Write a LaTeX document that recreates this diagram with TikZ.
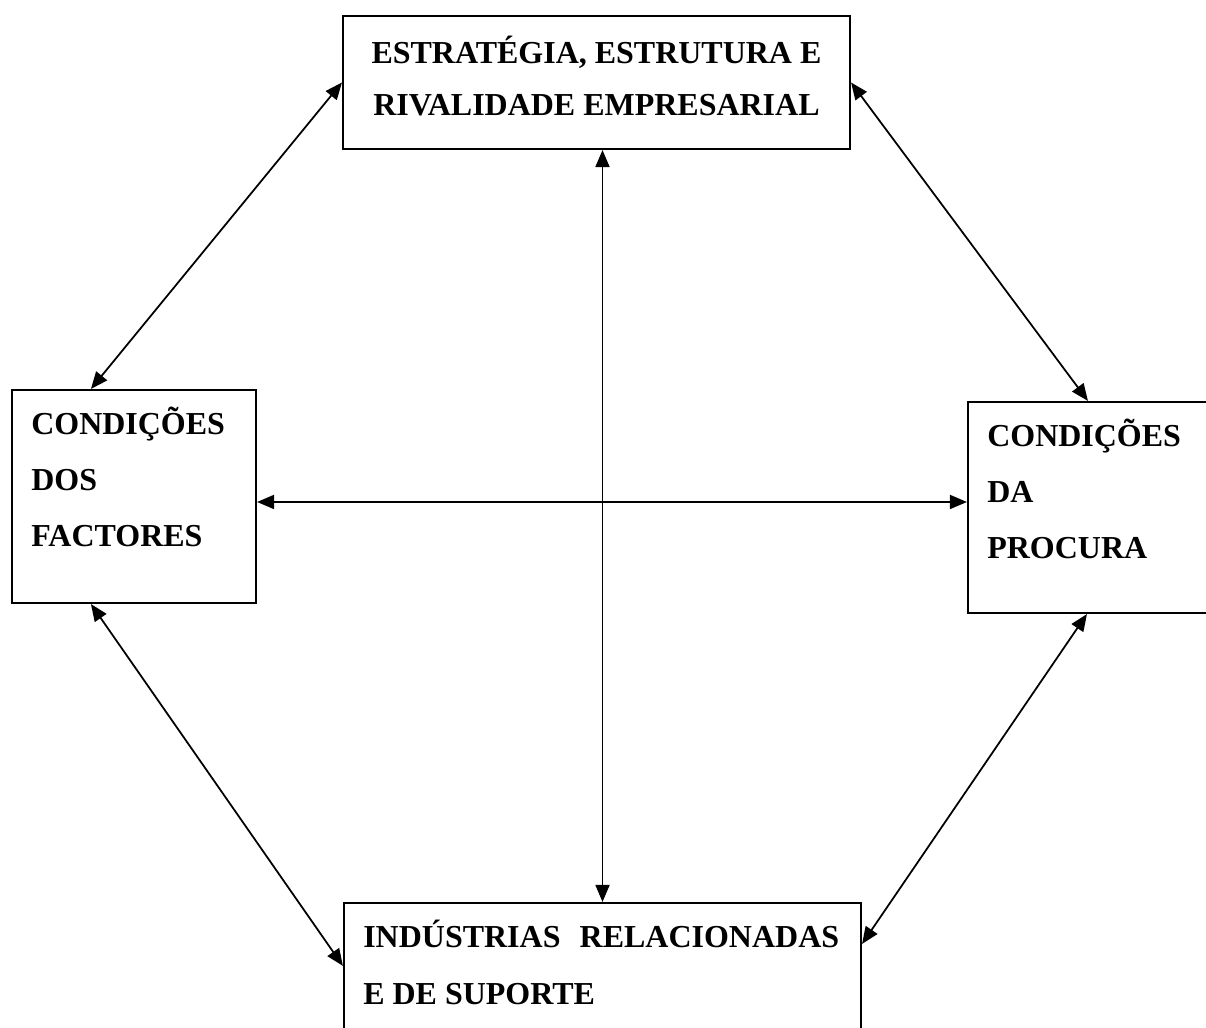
\documentclass[tikz,border=0pt]{standalone}
\usepackage{fontspec}
\setmainfont{Liberation Serif}
\usetikzlibrary{arrows.meta,calc}

\begin{document}
\begin{tikzpicture}[x=1cm,y=1cm,
    >={Triangle[length=0.34cm,width=0.28cm]},
    box/.style={draw, line width=1.2pt, inner sep=0pt},
    lbl/.style={inner sep=0pt, font=\fontsize{18.2}{32}\selectfont\bfseries},
    link/.style={<->, line width=1pt}]

    \useasboundingbox (0,0) rectangle (24.12,20.56);
    \clip (0,0) rectangle (24.12,20.56);

    \node[box, minimum width=10.14cm, minimum height=2.66cm]
        (estr) at (11.93,18.91) {};

    \node[box, minimum width=4.88cm, minimum height=4.26cm]
        (fact) at (2.68,10.63) {};

    \node[box, minimum width=4.88cm, minimum height=4.22cm]
        (proc) at (21.80,10.41) {};

    \node[box, minimum width=10.34cm, minimum height=2.66cm]
        (ind) at (12.05,1.17) {};

    \node[lbl, align=center, font=\fontsize{18.2}{29.6}\selectfont\bfseries]
        (estrtxt) at ([yshift=0.13cm]estr.center)
        {ESTRATÉGIA, ESTRUTURA E\\RIVALIDADE EMPRESARIAL};

    \node[lbl, align=left, anchor=west]
        (facttxt) at ([xshift=0.4cm,yshift=0.39cm]fact.west)
        {CONDIÇÕES\\DOS\\FACTORES};

    \node[lbl, align=left, anchor=west]
        (proctxt) at ([xshift=0.4cm,yshift=0.37cm]proc.west)
        {CONDIÇÕES\\DA\\PROCURA};

    \node[lbl, align=left, anchor=west]
        (indtxt) at ([xshift=0.4cm,yshift=0.14cm]ind.west)
        {INDÚSTRIAS\hspace{0.6em}RELACIONADAS\\E DE SUPORTE};

    \draw[link] (estr.west) -- ([xshift=1.6cm]fact.north west);

    \draw[link] (estr.east) -- ([xshift=2.42cm]proc.north west);

    \draw[link] ([xshift=1.6cm]fact.south west)
        -- ([yshift=-1.28cm]ind.north west);

    \draw[link] ([xshift=2.4cm]proc.south west)
        -- ([yshift=-0.84cm]ind.north east);

    \draw[link] (ind.north) -- (ind.north |- estr.south);

    \draw[link] ([yshift=-0.11cm]fact.east)
        -- ([yshift=-0.11cm]fact.east -| proc.west);

\end{tikzpicture}
\end{document}
